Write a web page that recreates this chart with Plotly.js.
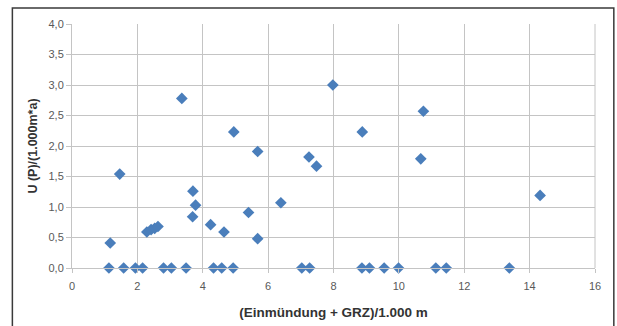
<!DOCTYPE html>
<html>
<head>
<meta charset="utf-8">
<script src="https://cdn.plot.ly/plotly-3.0.1.min.js"></script>
<style>
  html, body { margin: 0; padding: 0; background: #ffffff; }
  #chart { width: 617px; height: 326px; }
</style>
</head>
<body>
<div id="chart"></div>
<script>
// (Einmündung + GRZ)/1.000 m
const xValues = [
  1.13, 1.17, 1.46, 1.58, 1.94, 2.16, 2.29, 2.42, 2.53, 2.63,
  2.80, 3.04, 3.36, 3.49, 3.69, 3.70, 3.78, 4.24, 4.33, 4.58,
  4.65, 4.93, 4.95, 5.40, 5.68, 5.68, 6.39, 7.03, 7.25, 7.27,
  7.48, 7.98, 8.87, 8.88, 9.10, 9.55, 9.99, 10.67, 10.75, 11.13,
  11.45, 13.38, 14.32
];
// U (P)/(1.000m*a)
const yValues = [
  0.00, 0.41, 1.54, 0.00, 0.00, 0.00, 0.59, 0.63, 0.65, 0.68,
  0.00, 0.00, 2.78, 0.00, 0.84, 1.26, 1.03, 0.71, 0.00, 0.00,
  0.59, 0.00, 2.23, 0.91, 1.91, 0.48, 1.07, 0.00, 1.82, 0.00,
  1.67, 3.00, 0.00, 2.23, 0.00, 0.00, 0.00, 1.79, 2.57, 0.00,
  0.00, 0.00, 1.19
];

const xTickVals = [0, 2, 4, 6, 8, 10, 12, 14, 16];
const xTickText = ["0", "2", "4", "6", "8", "10", "12", "14", "16"];
const yTickVals = [0, 0.5, 1, 1.5, 2, 2.5, 3, 3.5, 4];
const yTickText = ["0,0", "0,5", "1,0", "1,5", "2,0", "2,5", "3,0", "3,5", "4,0"];

const xTitle = "(Einmündung + GRZ)/1.000 m";
const yTitle = "U (P)/(1.000m*a)";

const gridColor = "#c4c4c4";
const labelFont = { family: "Liberation Sans, Arial, sans-serif", size: 11, color: "#595959" };
const xTitleFont = { family: "Liberation Sans, Arial, sans-serif", size: 13.5, color: "#333333", weight: "bold" };
const yTitleFont = { family: "Liberation Sans, Arial, sans-serif", size: 12.5, color: "#333333", weight: "bold" };

const trace = {
  type: "scatter",
  mode: "markers",
  x: xValues,
  y: yValues,
  marker: { symbol: "diamond", size: 9, color: "#4a7ebb", line: { width: 0 } },
  cliponaxis: false,
  hoverinfo: "x+y"
};

const layout = {
  width: 617,
  height: 326,
  margin: { l: 72, r: 22, t: 24, b: 58 },
  paper_bgcolor: "#ffffff",
  plot_bgcolor: "#ffffff",
  showlegend: false,
  xaxis: {
    range: [0, 16],
    tickvals: xTickVals,
    ticktext: xTickText,
    showgrid: true,
    gridcolor: gridColor,
    gridwidth: 1,
    zeroline: false,
    showline: true,
    linecolor: gridColor,
    linewidth: 1,
    ticks: "outside",
    ticklen: 4,
    tickcolor: gridColor,
    tickfont: labelFont,
    ticklabelstandoff: 4,
    fixedrange: true,
    title: { text: xTitle, font: xTitleFont, standoff: 16 }
  },
  yaxis: {
    range: [0, 4],
    tickvals: yTickVals,
    ticktext: yTickText,
    showgrid: true,
    gridcolor: gridColor,
    gridwidth: 1,
    zeroline: false,
    showline: true,
    linecolor: gridColor,
    linewidth: 1,
    ticks: "outside",
    ticklen: 5,
    tickcolor: gridColor,
    tickfont: labelFont,
    fixedrange: true,
    title: { text: yTitle, font: yTitleFont, standoff: 8 }
  },
  shapes: [
    // right border line of the plot area
    { type: "line", xref: "paper", yref: "paper", x0: 1, x1: 1, y0: 0, y1: 1,
      line: { color: gridColor, width: 1 } },
    // outer frame around the whole figure
    { type: "rect", xref: "paper", yref: "paper",
      x0: -0.114, x1: 1.036, y0: -0.27, y1: 1.066,
      line: { color: "#3a3a3a", width: 1.5 }, fillcolor: "rgba(0,0,0,0)" }
  ]
};

Plotly.newPlot("chart", [trace], layout, { displayModeBar: false, staticPlot: true });
</script>
</body>
</html>
